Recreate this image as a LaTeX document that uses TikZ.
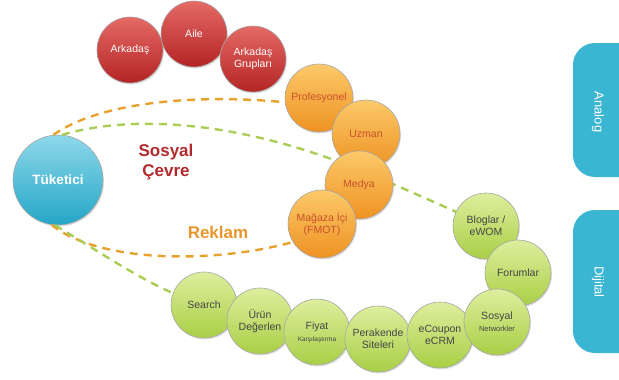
\documentclass[tikz,border=0pt]{standalone}
\usepackage{fontspec}
\setmainfont{Liberation Sans}
\usetikzlibrary{shadows}
\definecolor{redA}{HTML}{E46A66}
\definecolor{redB}{HTML}{B42424}
\definecolor{orA}{HTML}{FCC96A}
\definecolor{orB}{HTML}{EE9222}
\definecolor{grA}{HTML}{DDEE9E}
\definecolor{grB}{HTML}{A9CF45}
\definecolor{blA}{HTML}{8ED8EA}
\definecolor{blB}{HTML}{24A6C6}
\definecolor{pill}{HTML}{3BB6D2}
\definecolor{ortxt}{HTML}{C9512A}
\definecolor{grtxt}{HTML}{454545}
\definecolor{sosyal}{HTML}{B22A2E}
\definecolor{reklam}{HTML}{E8962C}
\definecolor{dashor}{HTML}{E7A22E}
\definecolor{dashgr}{HTML}{AACD55}
\tikzset{
  ball/.style={circle, inner sep=0pt, minimum size=66pt, align=center,
    draw=black!35, line width=0.6pt,
    drop shadow={opacity=0.25, shadow xshift=1pt, shadow yshift=-1.5pt},
    font=\fontsize{10.5}{12}\selectfont},
  redball/.style={ball, top color=redA, bottom color=redB, text=white},
  orball/.style={ball, top color=orA, bottom color=orB, text=ortxt, minimum size=68pt},
  grball/.style={ball, top color=grA, bottom color=grB, text=grtxt},
  blball/.style={ball, top color=blA, bottom color=blB, text=white, minimum size=90pt,
    font=\fontsize{13.5}{16}\selectfont\bfseries},
  ordash/.style={draw=dashor, line width=2.4pt, dash pattern=on 8pt off 6pt},
  grdash/.style={draw=dashgr, line width=2.4pt, dash pattern=on 8pt off 6pt},
  pillbox/.style={fill=pill, rounded corners=22pt},
  pilltext/.style={text=white, rotate=-90, font=\fontsize{13}{15}\selectfont},
  bigtext/.style={font=\fontsize{17}{20}\selectfont\bfseries, align=center}
}
\begin{document}
\begin{tikzpicture}[x=1pt,y=-1pt]
\useasboundingbox (0,0) rectangle (619,380);
\clip (0,0) rectangle (619,380);
% consumer
\node[blball] (tuk) at (58,180) {Tüketici};
% coordinates for dashed curves' ends
\coordinate (profend) at (300,104);
\coordinate (magend) at (300,240);
\coordinate (blogend) at (465,216);
\coordinate (searchend) at (182,297);
% dashed curves
\draw[ordash] (tuk.96) .. controls (110,95) and (230,95) .. (profend);
\draw[grdash] (tuk.85) .. controls (140,112) and (250,125) .. (360,170)
   .. controls (400,187) and (430,200) .. (blogend);
\draw[ordash] (tuk.262) .. controls (100,264) and (220,264) .. (magend);
\draw[grdash] (tuk.266) .. controls (100,252) and (140,280) .. (searchend);
% red circles
\node[redball] (ark) at (130,50) {Arkadaş};
\node[redball] (aile) at (194,34) {Aile};
\node[redball] (grup) at (253,59) {Arkadaş\\Grupları};
% orange circles
\node[orball] (prof) at (319,98) {Profesyonel};
\node[orball] (uzman) at (366,134) {Uzman};
\node[orball] (medya) at (359,185) {Medya};
\node[orball] (mag) at (322,224) {Mağaza İçi\\(FMOT)};
% green circles
\node[grball] (blog) at (486,226) {Bloglar /\\eWOM};
\node[grball] (forum) at (518,273) {Forumlar};
\node[grball] (search) at (204,305) {Search};
\node[grball] (urun) at (260,321) {Ürün\\Değerlen};
\node[grball] (fiyat) at (317,332) {Fiyat\\{\fontsize{6.5}{8}\selectfont Karşılaştırma}};
\node[grball] (perak) at (378,339) {Perakende\\Siteleri};
\node[grball] (ecoup) at (440,335) {eCoupon\\eCRM};
\node[grball] (sosnet) at (497,322) {Sosyal\\{\fontsize{7.5}{9}\selectfont Networkler}};
% labels
\node[bigtext, text=sosyal] (sosyal) at (166,162) {Sosyal\\Çevre};
\node[bigtext, text=reklam] (reklam) at (218,232) {Reklam};
% pills
\path[pillbox] (573,43) rectangle (660,177);
\node[pilltext] (analog) at (598,112) {Analog};
\path[pillbox] (573,210) rectangle (660,353);
\node[pilltext] (dijital) at (598,282) {Dijital};
\end{tikzpicture}
\end{document}
